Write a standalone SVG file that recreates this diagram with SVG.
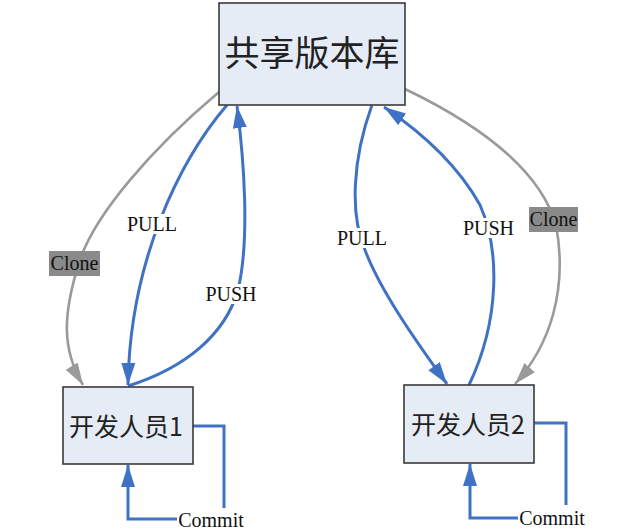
<svg xmlns="http://www.w3.org/2000/svg" width="619" height="531" viewBox="0 0 619 531">
<defs>
<style>
.box{fill:#e6ecf6;stroke:#3a3a3a;stroke-width:1.6}
.cjk{font-family:"Noto Sans CJK SC","Noto Sans CJK JP",sans-serif;fill:#222;text-anchor:middle}
.lbl{font-family:"Liberation Serif",serif;font-size:20px;fill:#111;text-anchor:middle}
.blue{fill:none;stroke:#3f72c4;stroke-width:3}
.gray{fill:none;stroke:#9a9a9a;stroke-width:2.6}
.cbg{fill:#8a8a8a}
.wbg{fill:#ffffff}
</style>
<marker id="ab" markerUnits="userSpaceOnUse" markerWidth="24" markerHeight="16" refX="22" refY="8" orient="auto">
<path d="M0,1 L22,8 L0,15 z" fill="#3f72c4"/>
</marker>
<marker id="ag" markerUnits="userSpaceOnUse" markerWidth="24" markerHeight="16" refX="22" refY="8" orient="auto">
<path d="M0,1 L22,8 L0,15 z" fill="#9a9a9a"/>
</marker>
</defs>
<rect width="619" height="531" fill="#ffffff"/>
<g id="connectors">
<path class="gray" d="M219,92 C150,150 95,215 80,260 C62,315 62,350 83,385" marker-end="url(#ag)"/>
<path class="blue" d="M227,105 C180,160 130,260 128,385" marker-end="url(#ab)"/>
<path class="blue" d="M128,386 C185,368 225,335 238,290 C250,240 244,160 237,106" marker-end="url(#ab)"/>
<path class="blue" d="M372,105 C352,160 350,215 365,250 C380,290 415,340 447,384" marker-end="url(#ab)"/>
<path class="blue" d="M469,385 C500,320 500,250 480,205 C455,160 415,128 384,107" marker-end="url(#ab)"/>
<path class="gray" d="M405,89 C480,125 540,170 556,225 C568,290 550,345 515,384" marker-end="url(#ag)"/>
<path class="blue" d="M193,426 L224,426 L224,508"/>
<path class="blue" d="M177,519 L128,519 L128,465" marker-end="url(#ab)"/>
<path class="blue" d="M534,423 L566,423 L566,505"/>
<path class="blue" d="M518,518 L470,518 L470,464" marker-end="url(#ab)"/>
<rect class="cbg" x="49" y="251" width="51" height="25"/>
<text class="lbl" x="74.5" y="270">Clone</text>
<rect class="cbg" x="529" y="207" width="49" height="25"/>
<text class="lbl" x="553.5" y="226">Clone</text>
<rect class="wbg" x="126" y="214" width="52" height="20"/>
<text class="lbl" x="152" y="231">PULL</text>
<rect class="wbg" x="204" y="284" width="54" height="20"/>
<text class="lbl" x="231" y="301">PUSH</text>
<rect class="wbg" x="336" y="228" width="52" height="20"/>
<text class="lbl" x="362" y="245">PULL</text>
<rect class="wbg" x="461" y="218" width="55" height="20"/>
<text class="lbl" x="488.5" y="235">PUSH</text>
<text class="lbl" x="211" y="527">Commit</text>
<text class="lbl" x="552" y="525">Commit</text>
</g>
<g id="repo">
<rect class="box" x="219" y="3" width="186" height="102"/>
<text class="cjk" x="312" y="66" font-size="35">共享版本库</text>
</g>
<g id="dev1">
<rect class="box" x="63" y="387" width="130" height="77"/>
<text class="cjk" x="126" y="436" font-size="25">开发人员1</text>
</g>
<g id="dev2">
<rect class="box" x="404" y="385" width="130" height="78"/>
<text class="cjk" x="468" y="434" font-size="25">开发人员2</text>
</g>
</svg>
